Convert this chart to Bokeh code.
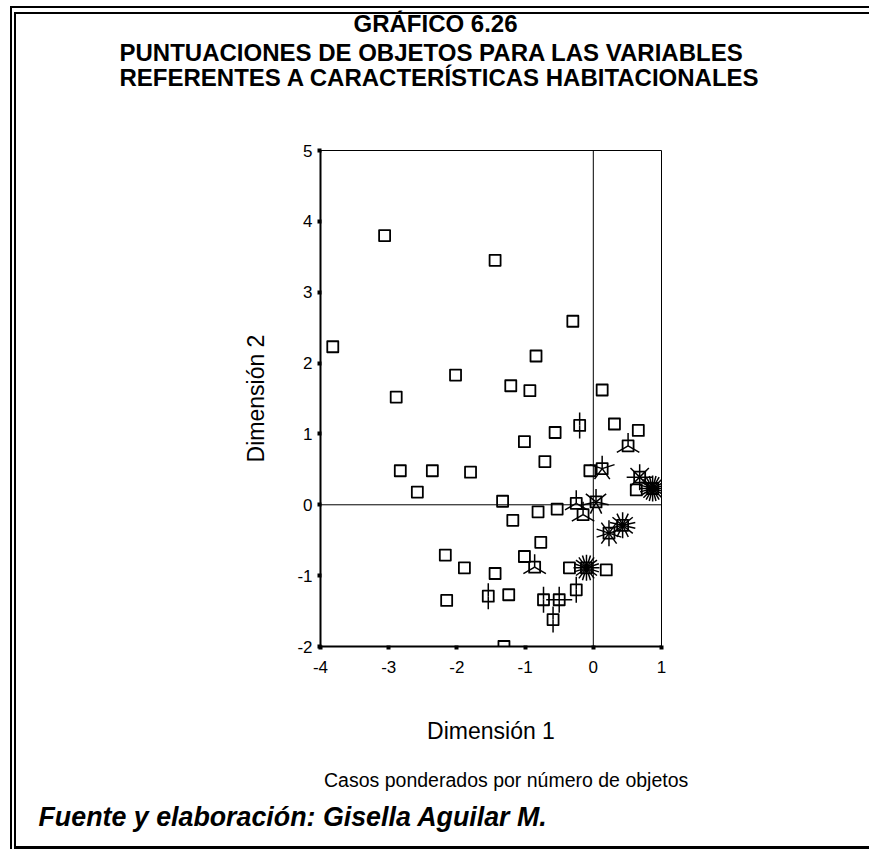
import math
from bokeh.plotting import figure
from bokeh.models import Range1d, FixedTicker, Span, Title
from bokeh.embed import file_html
from bokeh.resources import INLINE

# ---- data (object scores, weight = number of objects) ----
dim1 = [-3.82, -3.06, -1.44, -0.30, -0.84, -2.02, -2.89, -1.21, -0.93, 0.13,
        -0.20, 0.31, 0.66, -0.56, -1.01, 0.51, -0.71, -2.83, -2.36, -1.80,
        -0.05, 0.13, -2.58, 0.68, 0.63, 0.87, -1.33, -0.25, 0.04, -0.81,
        -0.53, -0.15, -1.18, 0.23, 0.43, -0.77, -2.17, -1.01, -1.89, -0.86,
        -0.35, -0.10, 0.19, -1.44, -2.15, -1.54, -1.24, -0.73, -0.50, -0.25,
        -0.59, -1.31]
dim2 = [2.23, 3.80, 3.45, 2.59, 2.10, 1.83, 1.52, 1.68, 1.61, 1.62,
        1.12, 1.14, 1.05, 1.02, 0.89, 0.83, 0.61, 0.48, 0.48, 0.46,
        0.48, 0.51, 0.18, 0.39, 0.21, 0.23, 0.05, 0.02, 0.04, -0.10,
        -0.06, -0.14, -0.22, -0.40, -0.29, -0.53, -0.71, -0.73, -0.89, -0.88,
        -0.89, -0.89, -0.92, -0.97, -1.35, -1.29, -1.27, -1.34, -1.34, -1.20,
        -1.62, -2.00]
weight = [1, 1, 1, 1, 1, 1, 1, 1, 1, 1,
          2, 1, 1, 1, 1, 3, 1, 1, 1, 1,
          1, 5, 1, 8, 1, 24, 1, 3, 7, 1,
          1, 3, 1, 10, 14, 1, 1, 1, 1, 3,
          1, 20, 1, 1, 1, 2, 1, 2, 4, 2,
          2, 1]

x_ticks = [-4, -3, -2, -1, 0, 1]
x_tick_labels = ["-4", "-3", "-2", "-1", "0", "1"]
y_ticks = [-2, -1, 0, 1, 2, 3, 4, 5]
y_tick_labels = ["-2", "-1", "0", "1", "2", "3", "4", "5"]

title_lines = ["GRÁFICO 6.26",
               "PUNTUACIONES DE OBJETOS PARA LAS VARIABLES",
               "REFERENTES A CARACTERÍSTICAS HABITACIONALES"]
x_label = "Dimensión 1"
y_label = "Dimensión 2"
note = "Casos ponderados por número de objetos"
source = "Fuente y elaboración: Gisella Aguilar M."

FONT = "Liberation Sans"
W, H = 869, 849
FL, FT, FW, FH = 320, 150, 341, 496

# Helvetica / Arial advance widths (1/1000 em) to centre text lines
_REG = dict(zip(" abcdefghijklmnopqrstuvwxyzúó",
                [278, 556, 556, 500, 556, 556, 278, 556, 556, 222, 222, 500, 222,
                 833, 556, 556, 556, 556, 333, 500, 278, 556, 500, 722, 500, 500,
                 500, 556, 556]))
_BOLD_CAPS = dict(zip(" ABCDEFGHIJKLMNOPQRSTUVWXYZÁÍ0123456789.",
                      [278, 722, 722, 722, 722, 667, 611, 778, 722, 278, 556, 722,
                       611, 833, 722, 778, 667, 778, 722, 667, 611, 722, 667, 944,
                       667, 667, 611, 722, 278] + [556] * 10 + [278]))


def text_width(s, table, size):
    return sum(table.get(c, 556) for c in s) * size / 1000.0


p = figure(width=W, height=H, output_backend="svg", toolbar_location=None,
           x_range=Range1d(-4, 1), y_range=Range1d(-2, 5),
           min_border_left=FL, min_border_top=FT,
           min_border_right=W - FL - FW, min_border_bottom=H - FT - FH)
p.background_fill_color = "white"
p.border_fill_color = None
p.grid.visible = False
p.outline_line_color = "black"
p.outline_line_width = 1
p.outline_line_alpha = 1

for ax, ticks, labels in ((p.xaxis[0], x_ticks, x_tick_labels),
                          (p.yaxis[0], y_ticks, y_tick_labels)):
    ax.ticker = FixedTicker(ticks=ticks)
    ax.major_label_overrides = {t: s for t, s in zip(ticks, labels)}
    ax.minor_tick_line_color = None
    ax.axis_line_width = 2
    ax.axis_line_color = "black"
    ax.major_tick_line_width = 4
    ax.major_tick_line_color = "black"
    ax.major_tick_in = 1
    ax.major_tick_out = 3
    ax.major_label_text_font = FONT
    ax.major_label_text_font_size = "17px"
    ax.major_label_text_color = "black"
    ax.axis_label_text_font = FONT
    ax.axis_label_text_font_style = "normal"
    ax.axis_label_text_font_size = "23px"
    ax.axis_label_text_color = "black"

p.xaxis.axis_label = x_label
p.yaxis.axis_label = y_label
p.xaxis.major_label_standoff = 11
p.xaxis.axis_label_standoff = 42
p.yaxis.major_label_standoff = 5
p.yaxis.axis_label_standoff = 25

p.add_layout(Span(location=0, dimension="height", line_color="black", line_width=1))
p.add_layout(Span(location=0, dimension="width", line_color="black", line_width=1))

# open squares, then sunflower petals (one petal per object when weight > 1)
p.scatter(x=dim1, y=dim2, marker="square", size=11, fill_alpha=0,
          line_color="black", line_width=1.8, line_join="round")
px, py, pa = [], [], []
for xv, yv, n in zip(dim1, dim2, weight):
    if n > 1:
        for k in range(n):
            px.append(xv)
            py.append(yv)
            pa.append(math.pi / 2 + 2 * math.pi * k / n)
p.ray(x=px, y=py, angle=pa, length=13, length_units="screen",
      line_color="black", line_width=1.5)


def spacer(gap):
    return Title(text=" ", text_font_size="1px", standoff=gap)


# header: stacked outward from the frame
TSIZE = 24
p.add_layout(spacer(56), "above")
# the two long lines share (almost) the same left edge in the original
p.add_layout(Title(text="\n".join(title_lines[1:]), align="left", offset=119 - FL,
                   standoff=0, text_font=FONT, text_font_style="bold",
                   text_line_height=0.96,
                   text_font_size=f"{TSIZE}px", text_color="black"), "above")
w1 = text_width(title_lines[0], _BOLD_CAPS, TSIZE)
p.add_layout(Title(text=title_lines[0], align="left", offset=435 - w1 / 2 - FL,
                   standoff=0, text_font=FONT, text_font_style="bold",
                   text_font_size=f"{TSIZE}px", text_color="black"), "above")

# footer: stacked below the x axis
NSIZE = 19.5
p.add_layout(spacer(17), "below")
wn = text_width(note, _REG, NSIZE)
p.add_layout(Title(text=note, align="left", offset=504 - wn / 2 - FL, standoff=0,
                   text_font=FONT, text_font_style="normal",
                   text_font_size=f"{NSIZE}px", text_color="black"), "below")
p.add_layout(spacer(6), "below")
p.add_layout(Title(text=source, align="left", offset=38 - FL, standoff=0,
                   text_font=FONT, text_font_style="bold italic",
                   text_font_size="26.8px", text_color="black"), "below")

# double page frame (left and top), single line at the bottom
_bar = "linear-gradient(#000, #000)"
p.styles = {"background": ", ".join([
    f"{_bar} 10px 6px / 2px calc(100% - 6px) no-repeat",
    f"{_bar} 10px 6px / calc(100% - 10px) 2px no-repeat",
    f"{_bar} 14px 12px / 2px calc(100% - 12px) no-repeat",
    f"{_bar} 14px 12px / calc(100% - 14px) 2px no-repeat",
    f"{_bar} 14px 846px / calc(100% - 14px) 3px no-repeat",
])}

open("out.html", "w").write(file_html(p, INLINE))
